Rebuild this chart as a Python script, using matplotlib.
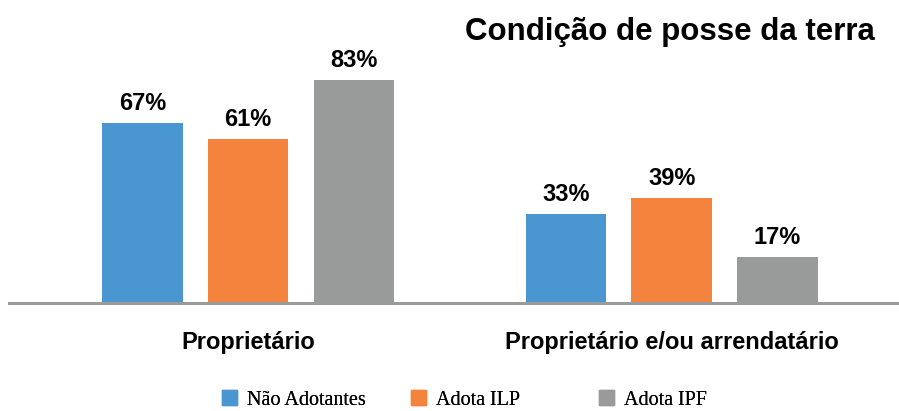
import numpy as np
import matplotlib
matplotlib.use('Agg')
import matplotlib.pyplot as plt
from matplotlib.patches import Patch

categories = ["Proprietário", "Proprietário e/ou arrendatário"]
series = ["Não Adotantes", "Adota ILP", "Adota IPF"]
nao_adotantes = [67, 33]
adota_ilp = [61, 39]
adota_ipf = [83, 17]
colors = ["#4A96D0", "#F4833D", "#999B9B"]

fig = plt.figure(figsize=(8.99, 4.11), dpi=100)
ax = fig.add_axes([9/899, 108/411, 890/899, 269/411])

x = np.arange(len(categories))
offset = 0.25
width = 0.19
for i, (vals, name) in enumerate(zip([nao_adotantes, adota_ilp, adota_ipf], series)):
    pos = x + (i - 1) * offset
    ax.bar(pos, vals, width, color=colors[i], label=name, zorder=2)
    for p, v in zip(pos, vals):
        ax.text(p, v + 3, f"{v}%", ha="center", va="bottom", fontsize=17,
                fontweight="bold", family="Liberation Sans")

ax.set_xlim(-0.565, 1.537)
ax.set_ylim(0, 100)
ax.set_yticks([])
ax.set_xticks([])
for s in ["top", "right", "left"]:
    ax.spines[s].set_visible(False)
ax.spines["bottom"].set_color("#9A9A9A")
ax.spines["bottom"].set_linewidth(2.2)

for xi, c in zip(x, categories):
    ax.text(xi, -14.5, c, ha="center", va="center", fontsize=17,
            fontweight="bold", family="Liberation Sans")

fig.text(0.973, 0.922, "Condição de posse da terra", ha="right", va="center",
         fontsize=22.5, fontweight="bold", family="Liberation Sans")

# one legend per series so the entries sit at even spacing
leg_x = [0.247, 0.457, 0.666]
for name, col, lx in zip(series, colors, leg_x):
    lg = fig.legend(handles=[Patch(color=col)], labels=[name], loc="center left",
                    bbox_to_anchor=(lx, 0.027), frameon=False, borderpad=0, borderaxespad=0,
                    prop={"family": "Liberation Serif", "size": 14.5},
                    handlelength=0.75, handleheight=0.75, handletextpad=0.5)
    fig.add_artist(lg)

fig.savefig("out.png", dpi=100)
